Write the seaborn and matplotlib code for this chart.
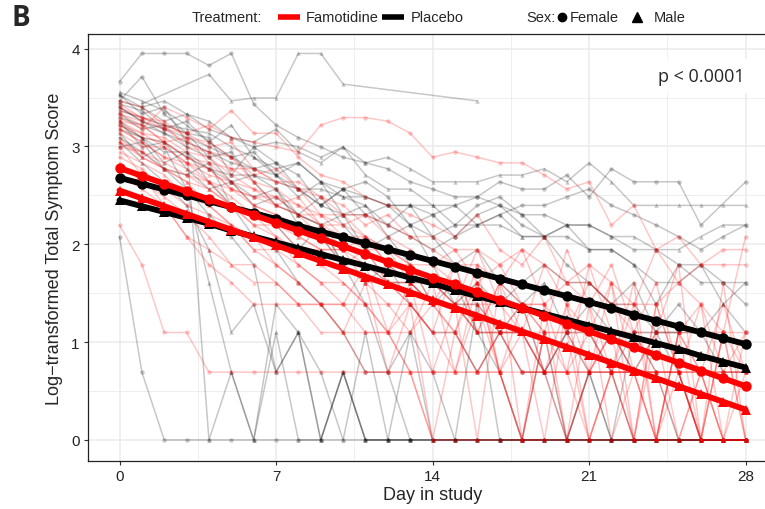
import numpy as np
import pandas as pd
import seaborn as sns
import matplotlib
matplotlib.use("Agg")
import matplotlib.pyplot as plt
from matplotlib.lines import Line2D

N = None
days = list(range(29))

# Individual total symptom scores (plotted as log(TSS + 1)); None = not recorded
pla_f = [
    [38, 51, 51, 51, 45, 51, 30, 24, 21, 19, 17, 16, 15, 13, 12, 11, 11, 10, 9, 9, 8, 8, 7, 6, 6, 5, 5, 4, 4],
    [7, 1, 0, 0, 0, 0, 0, 0, 0, 0, 0, 0, 0, 0, 0, 0, 0, 0, 0, 0, 0, 0, 0, 0, 0, 0, 0, 0, 0],
    [33, 27, 29, 20, 18, 16, 15, 14, 16, 13, 12, 11, 10, 10, 9, 10, 11, 13, 12, 12, 14, 11, 15, 13, 13, 13, 8, N, 13],
    [29, 25, 23, 21, 19, 17, 18, 14, 12, 10, 9, 9, 8, 7, 6, 7, 8, 9, 10, 10, 11, 12, 10, 9, 8, 7, 6, 7, 8],
    [21, 18, 15, 14, 16, 10, 7, 6, 4, 3, 2, 1, 1, 0, 0, 0, 0, 0, 0, 0, 0, 0, 0, 0, 0, 0, 0, 0, 0],
    [31, 40, 27, 22, 21, 14, 19, 16, 12, 10, 12, 13, 11, 8, 7, 8, 10, 11, 9, 7, 5, 4, 3, 4, 2, 3, 2, 1, 1],
    [27, 23, 24, 22, 17, 18, 13, 10, 9, 8, 5, 3, 1, 2, 1, 0, 3, 0, 0, 2, 0, 0, 0, 0, 0, 0, 0, 0, 0],
    [24, 21, 20, 17, 15, 13, 14, 12, 9, 11, 8, 6, 7, 5, 3, 4, 2, 2, 3, 1, 2, 1, 0, 2, 1, 0, 0, 0, 0],
    [30, 28, 23, 25, 20, 17, 15, 16, 14, 10, 12, 9, 10, 8, 9, 7, 9, 10, 8, 7, 7, 6, 6, 5, 3, 5, 4, 4, 3],
    [19, 20, 15, 12, 9, 7, 5, 1, 2, 0, 1, 0, 0, 0, N, N, N, N, N, N, N, N, N, N, N, N, N, N, N],
    [26, 24, 22, 19, 17, 13, 11, 12, 8, 7, 5, 4, 5, 3, 2, 2, 1, 2, 1, 1, 2, 2, 1, 2, 2, 2, N, N, N],
]
pla_m = [
    [N, 30, N, N, 41, 31, 32, 32, 51, 51, 37, N, N, N, N, N, 31, N, N, N, N, N, N, N, N, N, N, N, N],
    [31, 29, 25, 27, 23, 21, 19, 20, 19, 17, 19, 16, 17, 15, 13, 13, 13, 14, 14, 15, 13, 16, 13, 10, 10, 10, 10, 10, 10],
    [25, 19, 20, 15, 12, 13, 10, 11, 9, 8, 9, 6, 5, 4, 4, 3, 3, 2, 2, 1, 0, 1, 1, 0, 0, 0, 0, 0, 0],
    [29, 25, 22, 20, 0, 1, 0, 2, 0, 0, 1, 0, 0, 0, 0, 0, 0, 0, 0, 0, 0, 0, 0, 0, 0, 0, 0, 0, 0],
    [22, 17, 19, 12, 4, 1, 0, 3, 2, 0, 1, 0, 0, 2, 0, 0, 0, 0, 0, 0, 0, 0, 0, 0, N, N, N, N, N],
    [28, 26, 24, 23, 22, 19, 17, 15, 16, 13, 11, 10, 8, 10, 7, 5, 6, 4, 3, 4, 2, 3, 2, 1, 2, 1, 0, 0, 0],
    [25, 21, 16, 18, 13, 10, 9, 8, 6, 8, 5, 5, 4, 4, 3, 3, 4, 3, 4, 5, 4, 4, 3, 3, 2, 2, 2, 3, 4],
    [33, 29, 31, 27, 25, 21, 20, 23, 18, 16, 19, 14, 12, 12, 10, 10, 8, 9, 7, 7, 8, 6, 6, 5, 4, 4, 5, 3, 2],
    [20, 16, 13, 10, 6, 2, 3, 1, 2, 1, 0, 2, 0, 0, 0, 0, 0, 0, 0, 0, 0, 0, 0, 0, 0, 0, 0, 0, 0],
    [34, 31, 28, 24, 20, 24, 17, 14, 11, 13, 9, 10, 7, 8, 5, 3, 2, 1, 0, 0, 0, 1, 0, 0, 0, 0, 0, 0, 0],
    [23, 21, 18, 18, 15, 14, 14, 13, 12, 12, 11, 11, 10, 10, 10, 8, 8, 8, 7, 7, 8, 8, 7, 7, 6, 6, 7, 8, 8],
]
fam_f = [
    [27, 25, 23, 22, 24, 21, 20, 19, 18, 24, 26, 26, 25, 22, 17, 18, 17, 16, 16, 14, 12, 13, 8, 10, 6, 7, 5, 6, 6],
    [8, 5, 2, 2, 1, 1, 1, 1, 1, 1, 1, 1, 1, 1, 1, 1, 1, 1, 1, 1, 1, 1, 1, 1, 1, 1, 1, 1, 1],
    [26, 23, 29, 26, 23, 28, 22, 22, 17, 14, 13, 11, 10, 9, 8, 7, 9, 6, 5, 7, 4, 3, 5, 2, 4, 1, 3, 1, 2],
    [20, 18, 16, 14, 13, 10, 8, 7, 5, 4, 3, 5, 2, 4, 1, 3, 0, 4, 0, 2, 0, 3, 0, 1, 0, 2, 0, 0, 0],
    [19, 14, 10, 7, 5, 4, 3, 3, 3, 3, 3, 3, 3, 2, 3, 3, 2, 2, 3, 2, 2, 1, 2, 2, 1, 1, 1, 1, 1],
    [28, 26, 25, 21, 20, 17, 14, 15, 12, 9, 9, 7, 6, 4, 3, 5, 2, 4, 6, 3, 1, 5, 2, 0, 3, 1, 0, 4, 0],
    [25, 24, 20, 21, 16, 15, 13, 10, 11, 8, 6, 7, 5, 5, 4, 3, 6, 3, 2, 5, 3, 2, 4, 1, 2, 5, 0, 2, 1],
    [22, 19, 19, 16, 13, 12, 10, 9, 8, 7, 5, 6, 4, 3, 3, 2, 1, 2, 1, 1, 0, 1, 1, 0, 0, 0, 0, 0, 0],
    [31, 29, 24, 22, 19, 20, 15, 13, 13, 11, 10, 8, 9, 7, 6, 5, 5, 4, 3, 3, 2, 4, 3, 2, 2, 2, 2, 2, 2],
    [17, 15, 12, 10, 9, 8, 7, 5, 4, 3, 3, 2, 2, 3, 2, 1, 4, 1, 2, 0, 3, 0, 1, 3, 0, 2, 1, 0, 2],
    [24, 22, 21, 18, 17, 14, 12, 11, 10, 8, 8, 9, 7, 6, 5, 6, 4, 5, 3, 3, 4, 4, 3, 3, 6, 4, 5, 5, 5],
    [29, 26, 23, 20, 18, 15, 15, 13, 12, 11, 9, 9, 8, 7, 7, 6, 6, 5, 6, 5, 4, 5, 4, 3, 3, 4, 3, 2, 7],
    [23, 20, 17, 16, 15, 12, 11, 11, 9, 7, 6, 6, 4, 4, 3, 2, 4, 1, 3, 1, 2, 0, 1, 0, 3, 1, 0, 2, 0],
]
fam_m = [
    [23, 20, 17, 15, 13, 11, 9, 8, 6, 5, 4, 3, 2, 1, 0, 0, 0, 0, 0, 0, 0, 0, 0, 0, 0, 0, 0, 0, 0],
    [18, 16, 14, 11, 10, 8, 6, 5, 4, 3, 2, 4, 1, 3, 0, 2, 5, 1, 0, 3, 0, 1, 4, 0, 2, 0, 1, 0, 0],
    [25, 22, 19, 16, 14, 13, 10, 9, 7, 6, 6, 4, 3, 3, 2, 2, 1, 1, 0, 0, 0, 0, 0, 0, 0, 0, 0, 0, 0],
    [14, 12, 10, 7, 6, 5, 5, 4, 3, 3, 2, 2, 2, 1, 1, 1, 1, 2, 1, 1, 1, 0, 1, 1, 1, 1, 0, 0, 0],
    [27, 24, 20, 17, 15, 12, 11, 10, 9, 9, 7, 6, 6, 5, 3, 3, 4, 2, 2, 2, 1, 1, 2, 1, 1, 1, 1, 1, 1],
    [21, 17, 15, 13, 10, 8, 6, 6, 5, 4, 4, 3, 2, 2, 4, 1, 3, 1, 0, 2, 6, 3, 1, 4, 0, 2, 3, 0, 1],
    [30, 26, 24, 19, 18, 17, 13, 12, 10, 9, 8, 7, 6, 5, 5, 4, 3, 3, 3, 2, 2, 2, 1, 1, 1, 1, 0, 0, 0],
    [20, 17, 15, 14, 12, 10, 9, 7, 6, 6, 5, 4, 4, 3, 2, 5, 2, 4, 2, 1, 3, 1, 2, 1, 0, 2, 1, 3, 1],
    [16, 13, 11, 9, 7, 5, 4, 4, 3, 2, 2, 1, 1, 1, 0, 0, 0, 0, 0, 0, N, N, N, N, N, N, N, N, N],
    [24, 21, 20, 17, 16, 13, 12, 10, 9, 8, 7, 7, 5, 4, 4, 3, 3, 2, 2, 1, 1, 1, 1, 1, 0, 1, 0, 2, 0],
    [19, 18, 15, 13, 12, 10, 8, 8, 7, 6, 6, 5, 4, 4, 3, 3, 2, 2, 2, 1, 1, 2, 1, 1, 1, 0, 1, 0, 0],
]

# Model-fitted log-transformed scores per group
fit_fam_female = [2.78, 2.70, 2.62, 2.54, 2.46, 2.38, 2.30, 2.22, 2.14, 2.06, 1.98, 1.90, 1.82, 1.74, 1.66,
                  1.59, 1.51, 1.43, 1.35, 1.27, 1.19, 1.11, 1.03, 0.95, 0.87, 0.79, 0.71, 0.63, 0.55]
fit_pla_female = [2.68, 2.62, 2.56, 2.50, 2.44, 2.38, 2.32, 2.26, 2.19, 2.13, 2.07, 2.01, 1.95, 1.89, 1.83,
                  1.77, 1.71, 1.65, 1.59, 1.53, 1.47, 1.41, 1.35, 1.28, 1.22, 1.16, 1.10, 1.04, 0.98]
fit_fam_male = [2.55, 2.47, 2.39, 2.31, 2.23, 2.15, 2.07, 1.99, 1.91, 1.83, 1.75, 1.67, 1.59, 1.51, 1.43,
                1.35, 1.27, 1.19, 1.11, 1.03, 0.95, 0.87, 0.79, 0.71, 0.63, 0.55, 0.47, 0.39, 0.31]
fit_pla_male = [2.45, 2.39, 2.33, 2.27, 2.21, 2.14, 2.08, 2.02, 1.96, 1.90, 1.84, 1.78, 1.72, 1.66, 1.60,
                1.53, 1.47, 1.41, 1.35, 1.29, 1.23, 1.17, 1.11, 1.05, 0.99, 0.93, 0.86, 0.80, 0.74]

x_ticks = [0, 7, 14, 21, 28]
y_ticks = [0, 1, 2, 3, 4]
p_text = "p < 0.0001"

# ---- build tables ----
rows = []
sid = 0
for trt, sex, group in [("Placebo", "Female", pla_f), ("Placebo", "Male", pla_m),
                        ("Famotidine", "Female", fam_f), ("Famotidine", "Male", fam_m)]:
    for traj in group:
        sid += 1
        for d, v in zip(days, traj):
            if v is not None:
                rows.append(dict(subject=sid, day=d, y=np.log1p(v), treatment=trt, sex=sex))
ind = pd.DataFrame(rows)

frows = []
for trt, sex, vals in [("Famotidine", "Female", fit_fam_female), ("Placebo", "Female", fit_pla_female),
                       ("Famotidine", "Male", fit_fam_male), ("Placebo", "Male", fit_pla_male)]:
    for d, v in zip(days, vals):
        frows.append(dict(day=d, y=v, treatment=trt, sex=sex, grp=trt + sex))
fit = pd.DataFrame(frows)

sns.set_theme(style="white")
plt.rcParams["font.family"] = ["Liberation Sans Narrow", "Liberation Sans", "DejaVu Sans"]

pal = {"Famotidine": "#FF0000", "Placebo": "#000000"}
mk = {"Female": "o", "Male": "^"}

fig = plt.figure(figsize=(7.65, 5.10), dpi=100)
ax = fig.add_axes([88.2 / 765, 48 / 510, 688.7 / 765, 427 / 510])

# individual trajectories: placebo first, famotidine on top
for trt in ["Placebo", "Famotidine"]:
    sub = ind[ind.treatment == trt]
    sns.lineplot(data=sub, x="day", y="y", units="subject", estimator=None,
                 hue="treatment", palette=pal, style="sex", markers=mk, dashes=False,
                 alpha=0.22, linewidth=1.1, markersize=3.2, markeredgewidth=0,
                 legend=False, ax=ax, zorder=2)

# fitted group lines
for g in ["PlaceboMale", "FamotidineMale", "PlaceboFemale", "FamotidineFemale"]:
    sub = fit[fit.grp == g]
    sns.lineplot(data=sub, x="day", y="y", estimator=None,
                 hue="treatment", palette=pal, style="sex", markers=mk, dashes=False,
                 linewidth=4.2, markersize=7.5, markeredgewidth=0,
                 legend=False, ax=ax, zorder=5)

ax.set_xlim(-1.4, 29.4)
ax.set_ylim(-0.215, 4.15)
ax.set_xticks(x_ticks)
ax.set_xticklabels([str(t) for t in x_ticks])
ax.set_yticks(y_ticks)
ax.set_yticklabels([str(t) for t in y_ticks])
ax.set_xticks([3.5, 10.5, 17.5, 24.5], minor=True)
ax.set_yticks([0.5, 1.5, 2.5, 3.5], minor=True)
ax.grid(True, which="major", color="#EBEBEB", linewidth=1.1, zorder=0)
ax.grid(True, which="minor", color="#EBEBEB", linewidth=0.6, zorder=0)
ax.set_axisbelow(True)
ax.tick_params(axis="both", which="major", length=3, width=0.8, color="#333333",
               labelsize=11, labelcolor="#222222", pad=3, direction="out")
ax.tick_params(which="minor", length=0)
ax.tick_params(axis="x", bottom=True)
ax.tick_params(axis="y", left=True)
for s in ax.spines.values():
    s.set_color("#222222")
    s.set_linewidth(0.9)

ax.set_xlabel("Day in study", fontsize=13, labelpad=2)
ax.set_ylabel("Log\u2212transformed Total Symptom Score", fontsize=13, labelpad=6)

ax.text(26.0, 3.72, p_text, ha="center", va="center", fontsize=13, family=["Open Sans", "DejaVu Sans"],
        bbox=dict(boxstyle="square,pad=0.45", fc="white", ec="none"), zorder=6)

# panel letter
fig.text(11 / 765, 1 - 19 / 510, "B", fontsize=20, fontweight="bold", va="center", ha="left",
         family=["Open Sans", "DejaVu Sans"])

# top legend
ly = 1 - 18 / 510
fs = 10.5
fig.text(262 / 765, ly, "Treatment:", ha="right", va="center", fontsize=fs)
fig.add_artist(Line2D([278 / 765, 300 / 765], [ly, ly], color="#FF0000", lw=4,
                      solid_capstyle="butt", transform=fig.transFigure))
fig.text(306 / 765, ly, "Famotidine", ha="left", va="center", fontsize=fs)
fig.add_artist(Line2D([382 / 765, 404 / 765], [ly, ly], color="black", lw=4,
                      solid_capstyle="butt", transform=fig.transFigure))
fig.text(411 / 765, ly, "Placebo", ha="left", va="center", fontsize=fs)
fig.text(556 / 765, ly, "Sex:", ha="right", va="center", fontsize=fs)
fig.add_artist(Line2D([562 / 765], [ly], marker="o", color="black", ms=6, lw=0, transform=fig.transFigure))
fig.text(570 / 765, ly, "Female", ha="left", va="center", fontsize=fs)
fig.add_artist(Line2D([637 / 765], [ly], marker="^", color="black", ms=7, lw=0, transform=fig.transFigure))
fig.text(654 / 765, ly, "Male", ha="left", va="center", fontsize=fs)

fig.savefig("out.png", dpi=100)
